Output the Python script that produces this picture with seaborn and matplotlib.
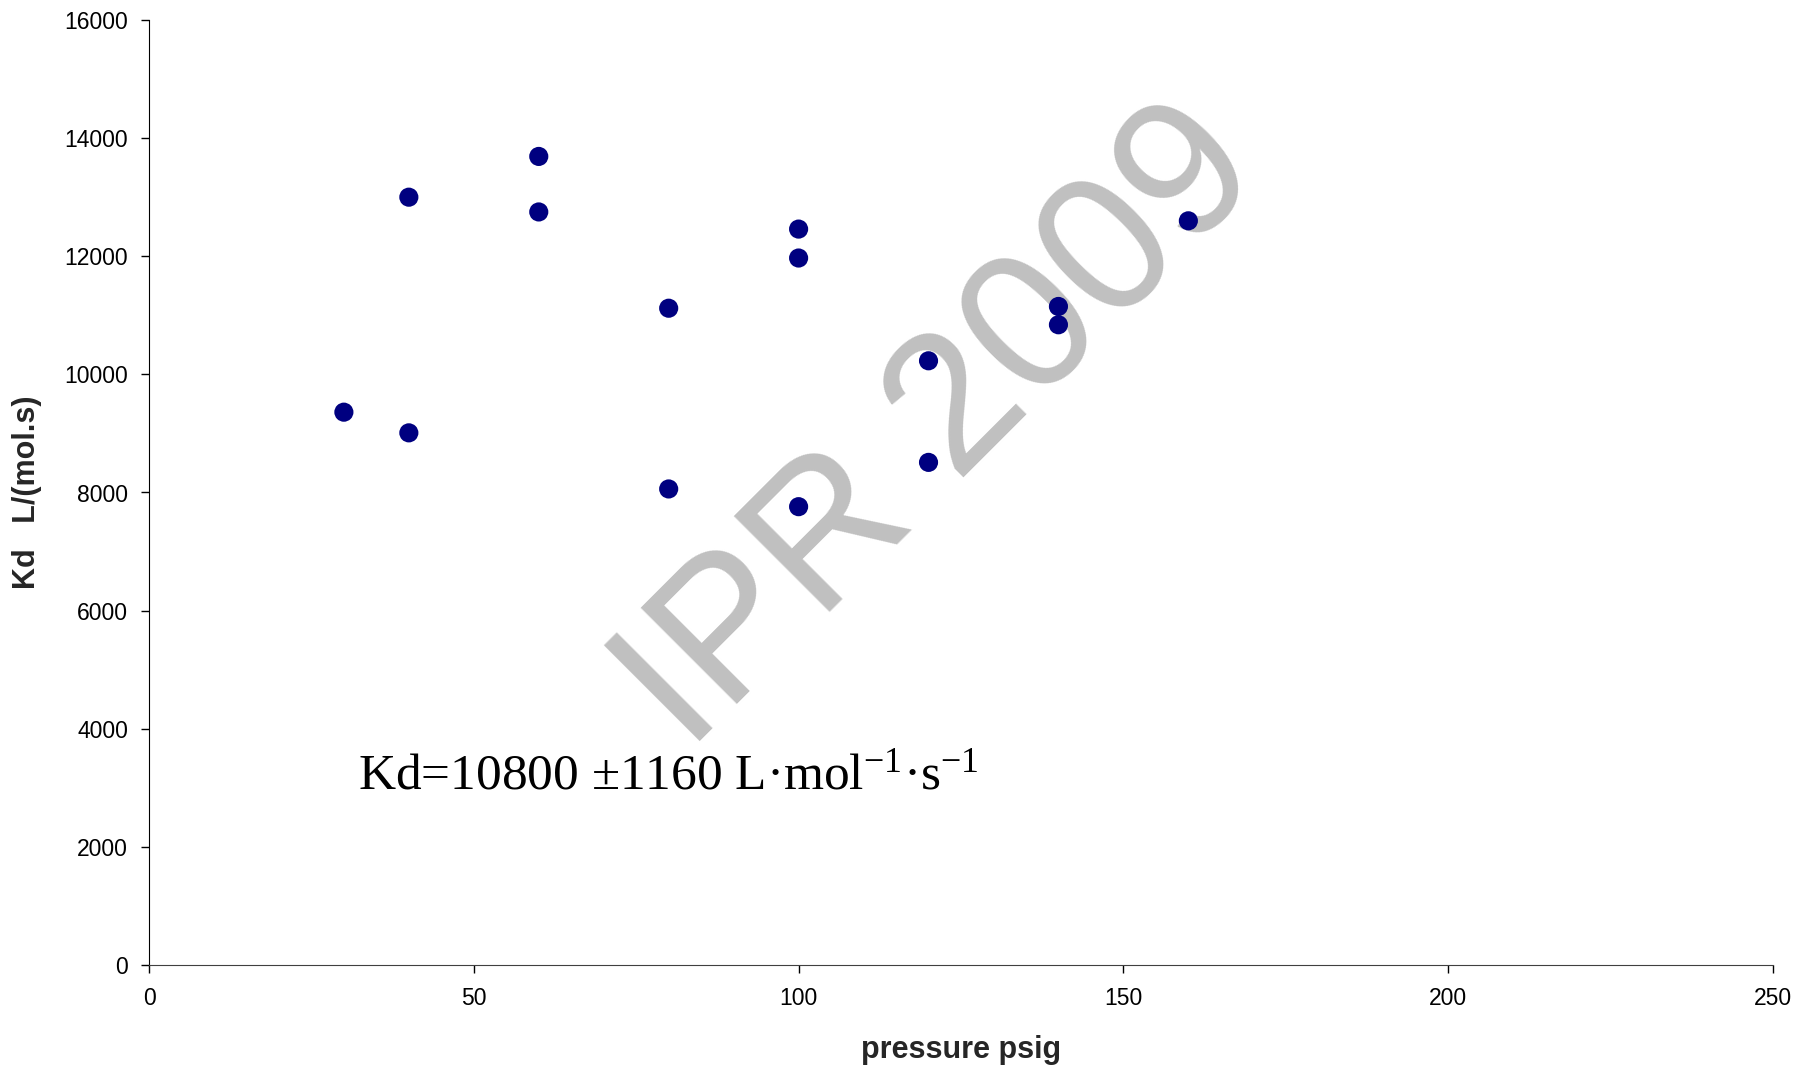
import matplotlib
matplotlib.use("Agg")
import matplotlib.pyplot as plt
import seaborn as sns
import pandas as pd

pressure = [30, 40, 40, 60, 60, 80, 80, 100, 100, 100, 120, 120, 140, 140, 160]
kd = [9360, 13000, 9010, 13690, 12750, 11120, 8060, 12460, 11970, 7760, 10230, 8510, 11150, 10840, 12600]
x_ticks = [0, 50, 100, 150, 200, 250]
y_ticks = [0, 2000, 4000, 6000, 8000, 10000, 12000, 14000, 16000]

df = pd.DataFrame({"pressure": pressure, "kd": kd})

sns.set_style("ticks")
plt.rcParams["font.family"] = ["Liberation Sans", "DejaVu Sans"]
plt.rcParams["mathtext.fontset"] = "custom"
plt.rcParams["mathtext.rm"] = "Liberation Serif"
plt.rcParams["mathtext.it"] = "Liberation Serif:italic"
plt.rcParams["mathtext.bf"] = "Liberation Serif:bold"

fig = plt.figure(figsize=(18.12, 10.67), dpi=100)
ax = fig.add_axes([149/1812, 1 - 965/1067, (1773-149)/1812, (965-20)/1067])

# watermark
ax.text(0.487, 0.567, "IPR 2009", transform=ax.transAxes, fontsize=141,
        color="#C0C0C0", rotation=45, ha="center", va="center",
        rotation_mode="anchor", zorder=1, family="Liberation Sans")

sns.scatterplot(data=df, x="pressure", y="kd", ax=ax, color="#000080",
                s=190, edgecolor="none", zorder=3, legend=False)

ax.set_xlim(0, 250)
ax.set_ylim(0, 16000)
ax.set_xticks(x_ticks)
ax.set_yticks(y_ticks)
ax.tick_params(axis="both", direction="out", length=6, width=1, labelsize=16.5, colors="black")
ax.tick_params(axis="x", pad=10)
ax.tick_params(axis="y", pad=9)
for s in ["top", "right"]:
    ax.spines[s].set_visible(False)
ax.spines["left"].set_color("black")
ax.spines["bottom"].set_color("#404040")
ax.set_xlabel("pressure psig", fontsize=22, fontweight="bold", labelpad=18)
ax.set_ylabel("Kd   L/(mol.s)", fontsize=22, fontweight="bold", labelpad=16)

ax.text(358/1812, 1 - 789/1067, r"Kd=10800 ±1160 L·mol$^{-1}$·s$^{-1}$",
        transform=fig.transFigure, fontsize=37, family="Liberation Serif",
        ha="left", va="baseline", color="black", zorder=4)

fig.savefig("out.png", dpi=100, facecolor="white")
